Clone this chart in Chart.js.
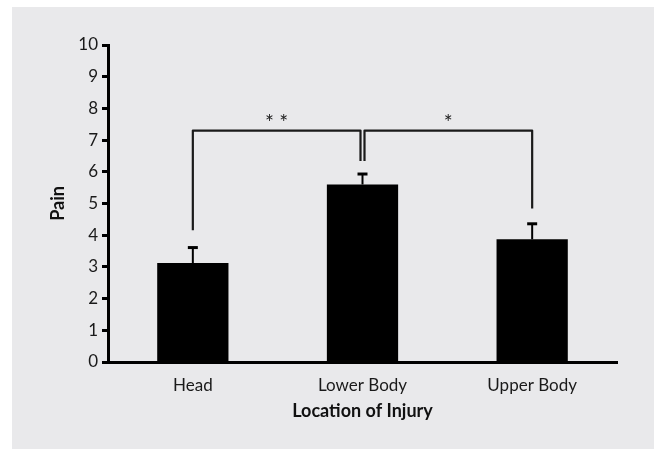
<!DOCTYPE html>
<html>
<head>
<meta charset="utf-8">
<script src="https://cdn.jsdelivr.net/npm/chart.js@4"></script>
<style>
  body { margin: 0; background: #fff; }
  #panel { position: absolute; left: 12px; top: 7px; width: 642px; height: 442px; background: #e9e9eb; }
  #wrap { position: absolute; left: 0; top: 0; width: 660px; height: 449px; }
</style>
</head>
<body>
<div id="panel"></div>
<div id="wrap"><canvas id="chart" width="660" height="449"></canvas></div>
<script>
const categories = ['Head', 'Lower Body', 'Upper Body'];
const painMeans = [3.12, 5.6, 3.87];
const painErrors = [0.49, 0.33, 0.49];
const yTicks = [0, 1, 2, 3, 4, 5, 6, 7, 8, 9, 10];

// significance brackets
const bracketFrom = [0, 1];
const bracketTo = [1, 2];
const bracketTop = [7.3, 7.3];
const bracketFromEnd = [4.16, 6.34];
const bracketToEnd = [6.34, 4.84];
const bracketLabels = ['* *', '*'];

const errorBars = {
  id: 'errorBars',
  afterDatasetsDraw(chart) {
    const { ctx, scales: { y } } = chart;
    const meta = chart.getDatasetMeta(0);
    ctx.save();
    ctx.strokeStyle = '#000';
    meta.data.forEach((bar, i) => {
      const top = y.getPixelForValue(painMeans[i] + painErrors[i]);
      ctx.lineWidth = 2;
      ctx.beginPath();
      ctx.moveTo(bar.x, bar.y);
      ctx.lineTo(bar.x, top);
      ctx.stroke();
      ctx.lineWidth = 3;
      ctx.beginPath();
      ctx.moveTo(bar.x - 5, top);
      ctx.lineTo(bar.x + 5, top);
      ctx.stroke();
    });
    ctx.restore();
  }
};

const brackets = {
  id: 'brackets',
  afterDatasetsDraw(chart) {
    const { ctx, scales: { x, y } } = chart;
    ctx.save();
    ctx.strokeStyle = '#1a1a1a';
    ctx.lineWidth = 2.2;
    ctx.lineJoin = 'round';
    ctx.fillStyle = '#222';
    ctx.font = '21px Lato';
    ctx.textAlign = 'center';
    ctx.textBaseline = 'middle';
    bracketFrom.forEach((f, i) => {
      const t = bracketTo[i];
      const x1 = x.getPixelForValue(f) + (bracketTo.includes(f) ? 2 : 0);
      const x2 = x.getPixelForValue(t) - (bracketFrom.includes(t) ? 2 : 0);
      const yTop = y.getPixelForValue(bracketTop[i]);
      ctx.beginPath();
      ctx.moveTo(x1, y.getPixelForValue(bracketFromEnd[i]));
      ctx.lineTo(x1, yTop);
      ctx.lineTo(x2, yTop);
      ctx.lineTo(x2, y.getPixelForValue(bracketToEnd[i]));
      ctx.stroke();
      ctx.fillText(bracketLabels[i], (x1 + x2) / 2, yTop - 7);
    });
    ctx.restore();
  }
};

new Chart(document.getElementById('chart'), {
  type: 'bar',
  data: {
    labels: categories,
    datasets: [{
      data: painMeans,
      backgroundColor: '#000',
      borderColor: '#000',
      categoryPercentage: 1,
      barPercentage: 0.42
    }]
  },
  options: {
    responsive: false,
    animation: false,
    layout: { padding: { left: 12, right: 43, top: 45, bottom: 0 } },
    plugins: { legend: { display: false }, tooltip: { enabled: false } },
    scales: {
      x: {
        afterFit(scale) { scale.height = 87; },
        grid: { display: false },
        border: { display: true, color: '#000', width: 3 },
        ticks: { color: '#1a1a1a', font: { family: 'Lato', size: 17 }, padding: 5 },
        title: {
          display: true,
          text: 'Location of Injury',
          color: '#111',
          font: { family: 'Lato', size: 18, weight: 'bold' },
          padding: { top: 4, bottom: 27 }
        }
      },
      y: {
        min: 0,
        max: 10,
        afterFit(scale) { scale.width = 96; },
        afterBuildTicks(scale) { scale.ticks = yTicks.map(v => ({ value: v })); },
        grid: { display: true, drawOnChartArea: false, drawTicks: true, tickLength: 6, tickWidth: 3, tickColor: '#000' },
        border: { display: true, color: '#000', width: 3 },
        ticks: { color: '#1a1a1a', font: { family: 'Lato', size: 17 }, padding: 4 },
        title: {
          display: true,
          text: 'Pain',
          color: '#111',
          font: { family: 'Lato', size: 18, weight: 'bold' },
          padding: { top: 35, bottom: 0 }
        }
      }
    }
  },
  plugins: [errorBars, brackets]
});
</script>
</body>
</html>
